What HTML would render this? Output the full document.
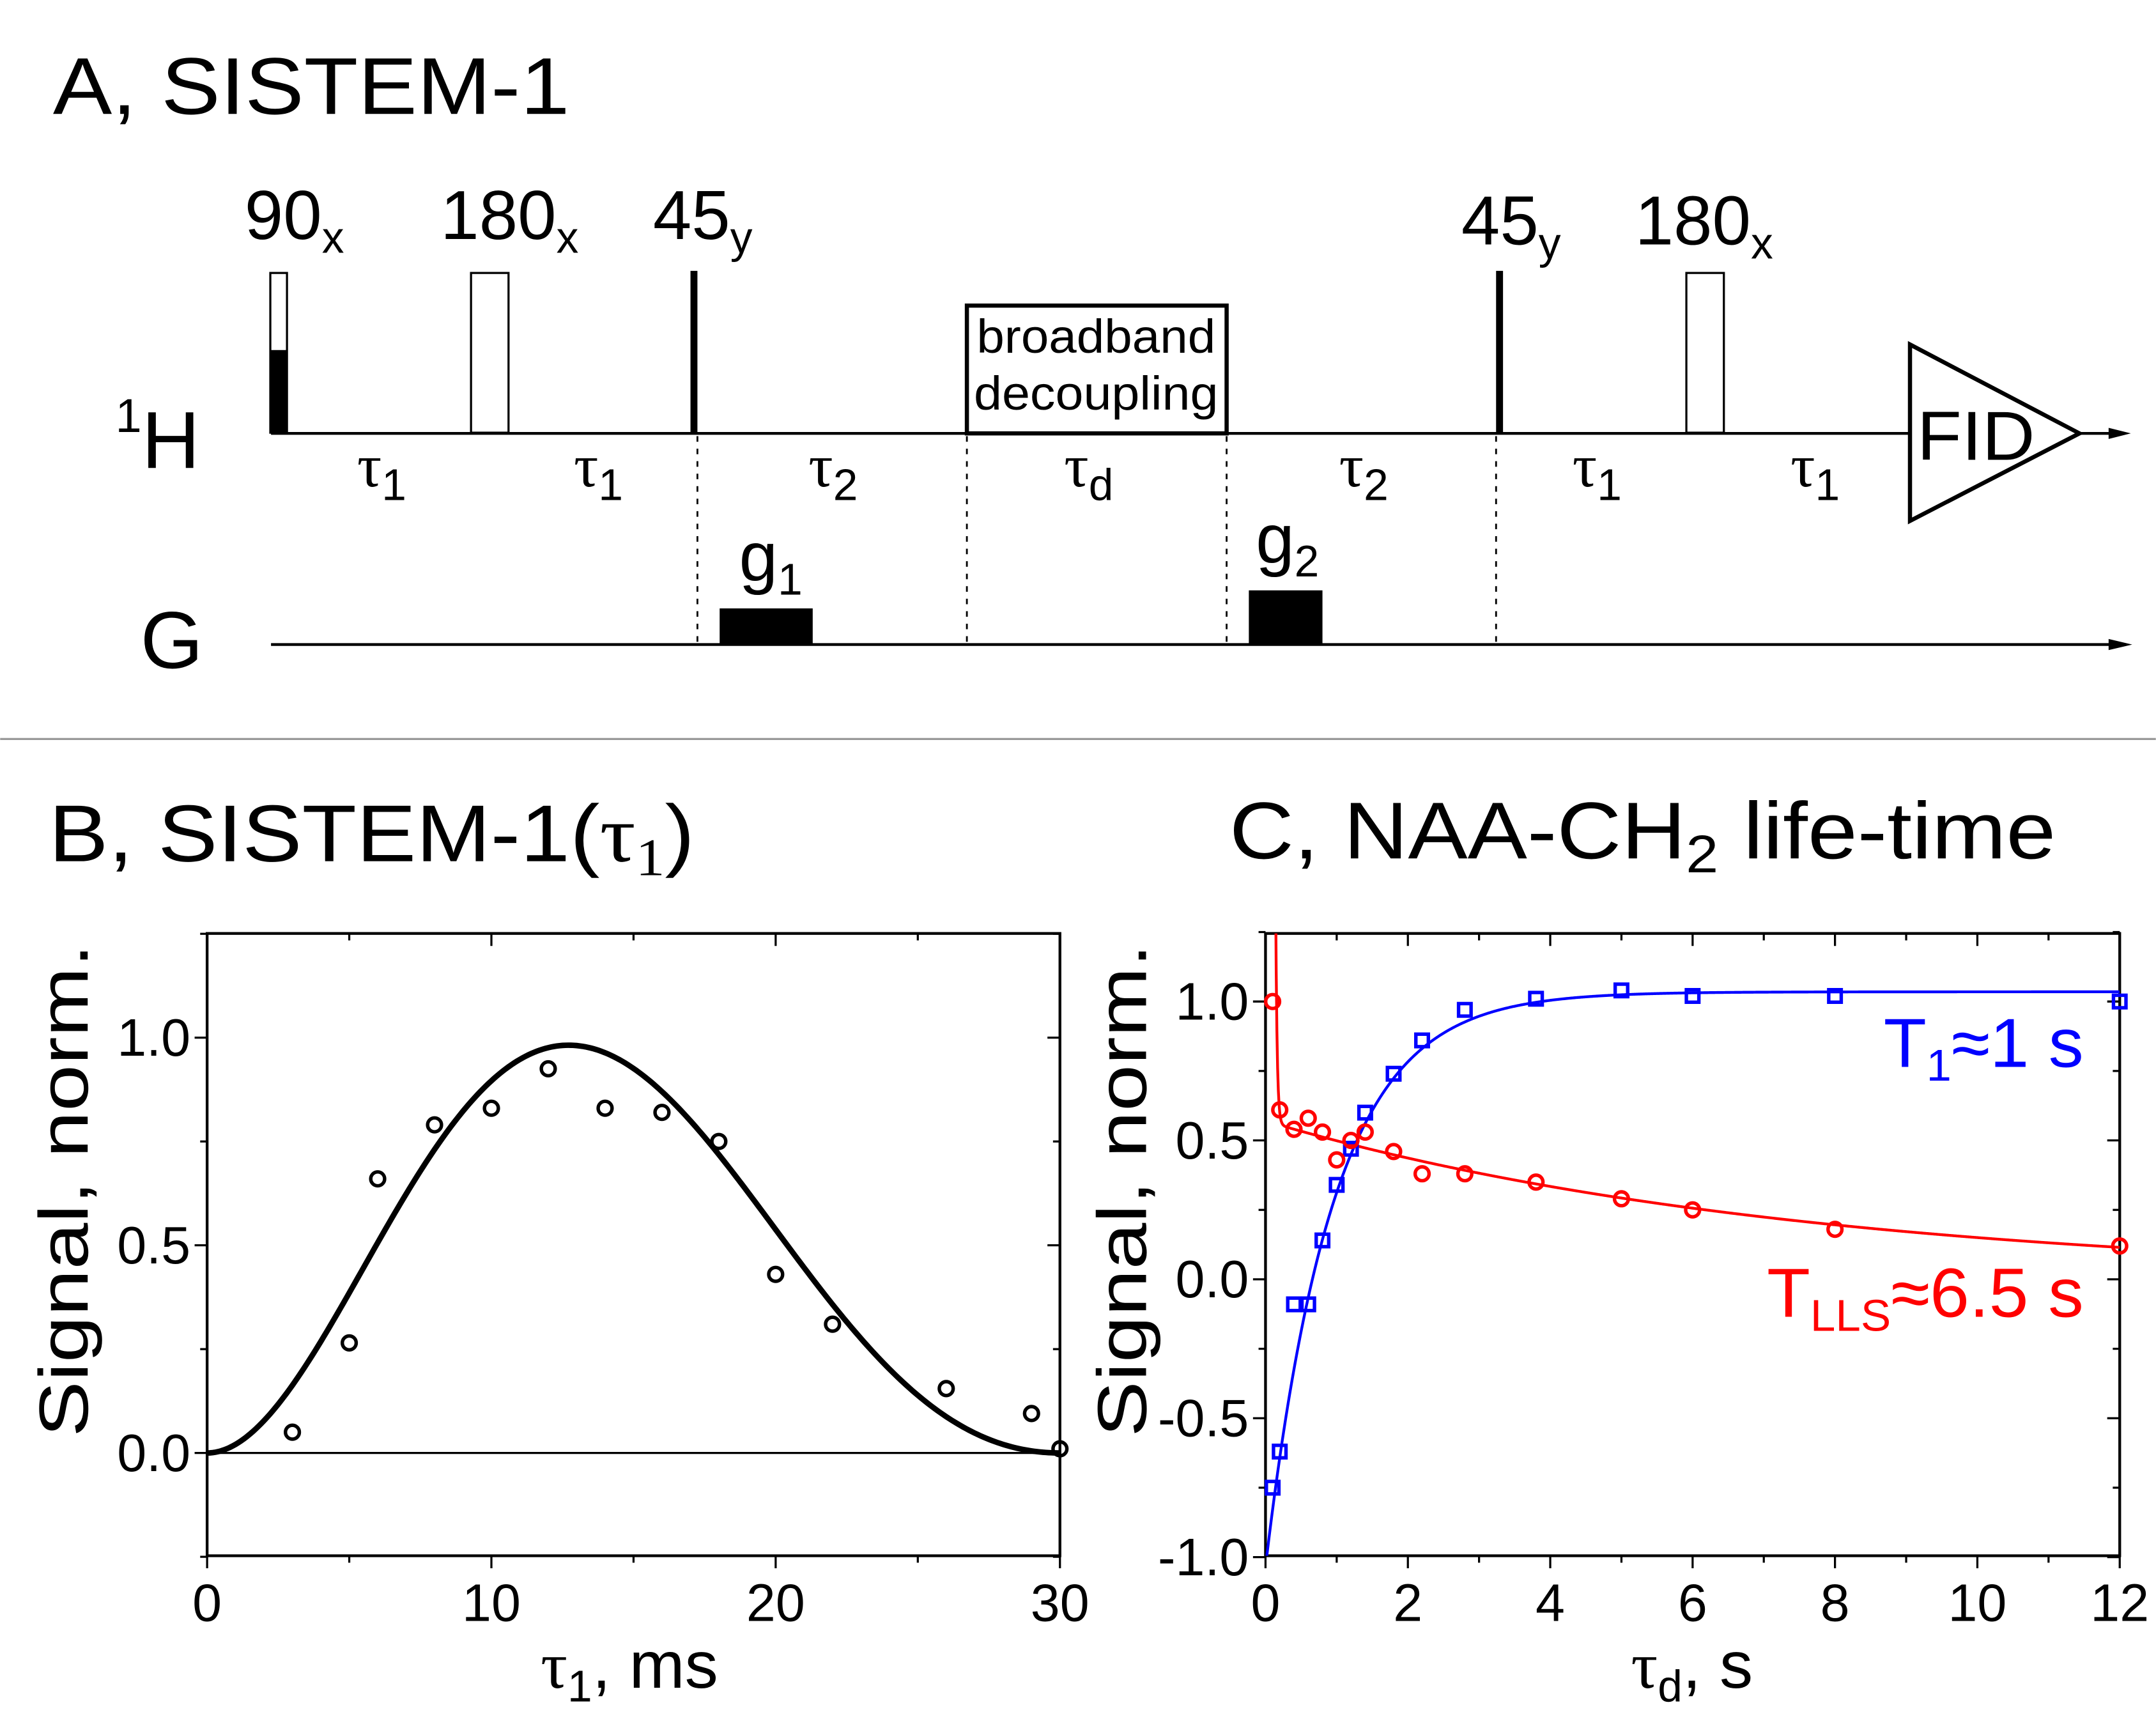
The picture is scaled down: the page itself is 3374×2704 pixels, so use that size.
<!DOCTYPE html>
<html><head><meta charset="utf-8"><style>
html,body{margin:0;padding:0;background:#fff}
svg{display:block}
text{font-family:"Liberation Sans",sans-serif}
.serif{font-family:"Liberation Serif",serif}
</style></head><body>
<svg id="fig" width="3374" height="2704" viewBox="0 0 1552 1244" xmlns="http://www.w3.org/2000/svg">
<rect width="1552" height="1244" fill="#fff"/>
<g>
<text x="38" y="82" font-size="58" textLength="372" lengthAdjust="spacingAndGlyphs">A, SISTEM-1</text>
<text x="83" y="337" font-size="58"><tspan font-size="34" dy="-26">1</tspan><tspan dy="26">H</tspan></text>
<text x="101" y="481" font-size="58">G</text>
<line x1="195" y1="312" x2="1528" y2="312" stroke="#000" stroke-width="2"/>
<path d="M1518 308 L1534 312 L1518 316" fill="#000"/>
<line x1="195" y1="464" x2="1528" y2="464" stroke="#000" stroke-width="2"/>
<path d="M1518 460 L1535 464 L1518 468" fill="#000"/>
<rect x="194.5" y="196.5" width="12" height="115" fill="#fff" stroke="#000" stroke-width="1.5"/>
<rect x="194" y="252" width="13" height="60" fill="#000"/>
<rect x="339" y="196.5" width="27" height="115" fill="#fff" stroke="#000" stroke-width="1.5"/>
<rect x="497" y="195" width="5" height="117" fill="#000"/>
<rect x="696" y="220" width="187" height="92" fill="#fff" stroke="#000" stroke-width="3"/>
<text x="789" y="254" font-size="34" text-anchor="middle" textLength="172" lengthAdjust="spacingAndGlyphs">broadband</text>
<text x="789" y="295" font-size="34" text-anchor="middle" textLength="176" lengthAdjust="spacingAndGlyphs">decoupling</text>
<rect x="1077" y="195" width="5" height="117" fill="#000"/>
<rect x="1214" y="196.5" width="27" height="115" fill="#fff" stroke="#000" stroke-width="1.5"/>
<path d="M1375 248 L1497 312 L1375 375 Z" fill="#fff" stroke="#000" stroke-width="3"/>
<text x="1380" y="331" font-size="50" textLength="85" lengthAdjust="spacingAndGlyphs">FID</text>
<g font-size="50">
<text x="176" y="172">90<tspan font-size="32" dy="10">x</tspan></text>
<text x="317" y="172">180<tspan font-size="32" dy="10">x</tspan></text>
<text x="470" y="172">45<tspan font-size="32" dy="10">y</tspan></text>
<text x="1052" y="176">45<tspan font-size="32" dy="10">y</tspan></text>
<text x="1177" y="176">180<tspan font-size="32" dy="10">x</tspan></text>
</g>
<g font-size="44">
<text x="257" y="350" class="serif">τ<tspan font-family="Liberation Sans" font-size="32" dy="10">1</tspan></text>
<text x="413" y="350" class="serif">τ<tspan font-family="Liberation Sans" font-size="32" dy="10">1</tspan></text>
<text x="582" y="350" class="serif">τ<tspan font-family="Liberation Sans" font-size="32" dy="10">2</tspan></text>
<text x="766" y="350" class="serif">τ<tspan font-family="Liberation Sans" font-size="32" dy="10">d</tspan></text>
<text x="964" y="350" class="serif">τ<tspan font-family="Liberation Sans" font-size="32" dy="10">2</tspan></text>
<text x="1132" y="350" class="serif">τ<tspan font-family="Liberation Sans" font-size="32" dy="10">1</tspan></text>
<text x="1289" y="350" class="serif">τ<tspan font-family="Liberation Sans" font-size="32" dy="10">1</tspan></text>
</g>
<g stroke="#000" stroke-width="1.3" stroke-dasharray="4,5">
<line x1="502" y1="314" x2="502" y2="464"/><line x1="696" y1="314" x2="696" y2="464"/>
<line x1="883" y1="314" x2="883" y2="464"/><line x1="1077" y1="314" x2="1077" y2="464"/>
</g>
<rect x="518" y="438" width="67" height="26" fill="#000"/>
<rect x="899" y="425" width="53" height="39" fill="#000"/>
<text x="532" y="418" font-size="50">g<tspan font-size="32" dy="10">1</tspan></text>
<text x="904" y="405" font-size="50">g<tspan font-size="32" dy="10">2</tspan></text>
</g>
<line x1="0" y1="532" x2="1552" y2="532" stroke="#999" stroke-width="1.5"/>
<text x="35" y="620" font-size="58" textLength="465" lengthAdjust="spacingAndGlyphs">B, SISTEM-1(<tspan class="serif">τ</tspan><tspan class="serif" font-size="38" dy="10">1</tspan><tspan dy="-10">)</tspan></text>
<text x="885" y="618" font-size="58" textLength="595" lengthAdjust="spacingAndGlyphs">C, NAA-CH<tspan font-size="38" dy="10">2</tspan><tspan dy="-10"> life-time</tspan></text>
<g id="plotB"></g>
<g id="plotC"></g>
</svg>
<script>
const NS='http://www.w3.org/2000/svg';
// Panel B data
const bX=[3,5,6,8,10,12,14,16,18,20,22,26,29,30];
const bY=[0.05,0.265,0.66,0.79,0.83,0.925,0.83,0.82,0.75,0.43,0.31,0.155,0.095,0.01];
const bXTicks=[0,10,20,30];
const bYTicks=[0.0,0.5,1.0];
const bYTickLabels=['0.0','0.5','1.0'];
// Panel C data
const cX=[0.1,0.2,0.4,0.6,0.8,1.0,1.2,1.4,1.8,2.2,2.8,3.8,5,6,8,12];
const cBlue=[-0.75,-0.62,-0.09,-0.09,0.14,0.34,0.47,0.60,0.74,0.86,0.97,1.01,1.04,1.02,1.02,1.00];
const cRed=[1.0,0.61,0.54,0.58,0.53,0.43,0.50,0.53,0.46,0.38,0.38,0.35,0.29,0.25,0.18,0.12];
const cXTicks=[0,2,4,6,8,10,12];
const cYTicks=[-1.0,-0.5,0.0,0.5,1.0];
const cYTickLabels=['-1.0','-0.5','0.0','0.5','1.0'];

function el(tag,attrs,parent){const e=document.createElementNS(NS,tag);for(const k in attrs)e.setAttribute(k,attrs[k]);parent.appendChild(e);return e;}

function axesFrame(g,L,R,T,B,xs,ys,xMaj,xMin,yMaj,yMin,xr,yr){
  el('rect',{x:L,y:T,width:R-L,height:B-T,fill:'none',stroke:'#000','stroke-width':2},g);
  for(let v=xr[0];v<=xr[1]+1e-9;v+=xMin){const X=xs(v);const maj=Math.abs(v/xMaj-Math.round(v/xMaj))<1e-6;const len=maj?9:5;
    el('line',{x1:X,y1:B,x2:X,y2:B+len,stroke:'#000','stroke-width':1.5},g);
    el('line',{x1:X,y1:T,x2:X,y2:T+len,stroke:'#000','stroke-width':1.5},g);}
  for(let v=yr[0];v<=yr[1]+1e-9;v+=yMin){const Y=ys(v);const maj=Math.abs(v/yMaj-Math.round(v/yMaj))<1e-6;const len=maj?9:5;
    el('line',{x1:L-len,y1:Y,x2:L,y2:Y,stroke:'#000','stroke-width':1.5},g);
    el('line',{x1:R-len,y1:Y,x2:R,y2:Y,stroke:'#000','stroke-width':1.5},g);}
}

// ---- Panel B
(function(){
  const g=document.getElementById('plotB');
  const L=149,R=763,T=672,B=1120;
  const xs=v=>L+(v-0)/(30-0)*(R-L);
  const ys=v=>1046-v*299;
  axesFrame(g,L,R,T,B,xs,ys,10,5,0.5,0.25,[0,30],[-0.25,1.25]);
  const z=el('line',{x1:L,y1:ys(0),x2:R,y2:ys(0),stroke:'#000','stroke-width':1.5},g);
  
  
  bXTicks.forEach(v=>{const t=el('text',{x:xs(v),y:1167,'font-size':38,'text-anchor':'middle'},g);t.textContent=v;
    
    });
  bYTicks.forEach((v,i)=>{const t=el('text',{x:L-12,y:ys(v)+13,'font-size':38,'text-anchor':'end'},g);t.textContent=bYTickLabels[i];
    
    });
  let d='';for(let i=0;i<=300;i++){const x=30*i/300;const y=1.99*Math.pow(Math.sin(Math.PI*x/30),2)*Math.exp(-x/19.6);d+=(i?'L':'M')+xs(x).toFixed(2)+' '+ys(y).toFixed(2);}
  const p=el('path',{d:d,fill:'none',stroke:'#000','stroke-width':4},g);
  
  
  bX.forEach((x,i)=>{const c=el('circle',{cx:xs(x),cy:ys(bY[i]),r:5,fill:'none',stroke:'#000','stroke-width':2.5},g);
    
    });
  const yl=el('text',{x:0,y:0,'font-size':50,'text-anchor':'middle',textLength:355,lengthAdjust:'spacingAndGlyphs',transform:'translate(63,857) rotate(-90)'},g);yl.textContent='Signal, norm.';
  
  
  const xl=el('text',{x:453,y:1215,'font-size':48,'text-anchor':'middle'},g);
  xl.innerHTML='<tspan font-family="Liberation Serif">τ</tspan><tspan font-size="32" dy="10">1</tspan><tspan dy="-10">, ms</tspan>';
  
  
})();

// ---- Panel C
(function(){
  const g=document.getElementById('plotC');
  const L=911,R=1526,T=672,B=1120;
  const xs=v=>L+v/12*(R-L);
  const ys=v=>921-v*200;
  const defs=el('defs',{},g);const cp=el('clipPath',{id:'cclip'},defs);el('rect',{x:L,y:T,width:R-L,height:B-T},cp);
  axesFrame(g,L,R,T,B,xs,ys,2,1,0.5,0.25,[0,12],[-1,1.25]);
  cXTicks.forEach(v=>{const t=el('text',{x:xs(v),y:1167,'font-size':38,'text-anchor':'middle'},g);t.textContent=v;
    
    });
  cYTicks.forEach((v,i)=>{const t=el('text',{x:L-12,y:ys(v)+13,'font-size':38,'text-anchor':'end'},g);t.textContent=cYTickLabels[i];
    
    });
  let db='',dr='';
  for(let i=0;i<=1200;i++){const x=12*i/1200;
    const yb=1.035*(1-2*Math.exp(-x/0.95));
    let yr=0.57*Math.exp(-x/7.5)+1000*Math.exp(-x/0.02);if(yr>2)yr=2;
    db+=(i?'L':'M')+xs(x).toFixed(2)+' '+ys(yb).toFixed(2);
    dr+=(i?'L':'M')+xs(x).toFixed(2)+' '+ys(yr).toFixed(2);}
  const pb=el('path',{d:db,fill:'none',stroke:'#0000ff','stroke-width':2,'clip-path':'url(#cclip)'},g);
  
  
  const pr=el('path',{d:dr,fill:'none',stroke:'#ff0000','stroke-width':2,'clip-path':'url(#cclip)'},g);
  
  
  cX.forEach((x,i)=>{const s=el('rect',{x:xs(x)-4.5,y:ys(cBlue[i])-4.5,width:9,height:9,fill:'none',stroke:'#0000ff','stroke-width':2.5},g);
    
    });
  cX.forEach((x,i)=>{const c=el('circle',{cx:xs(x),cy:ys(cRed[i]),r:5,fill:'none',stroke:'#ff0000','stroke-width':2.5},g);
    
    });
  const t1=el('text',{x:1356,y:768,'font-size':50,fill:'#0000ff',textLength:144,lengthAdjust:'spacingAndGlyphs'},g);
  t1.innerHTML='T<tspan font-size="32" dy="10">1</tspan><tspan dy="-10">≈1 s</tspan>';
  
  
  const t2=el('text',{x:1272,y:948,'font-size':50,fill:'#ff0000',textLength:228,lengthAdjust:'spacingAndGlyphs'},g);
  t2.innerHTML='T<tspan font-size="32" dy="10">LLS</tspan><tspan dy="-10">≈6.5 s</tspan>';
  
  
  const yl=el('text',{x:0,y:0,'font-size':50,'text-anchor':'middle',textLength:355,lengthAdjust:'spacingAndGlyphs',transform:'translate(825,857) rotate(-90)'},g);yl.textContent='Signal, norm.';
  
  
  const xl=el('text',{x:1218,y:1215,'font-size':48,'text-anchor':'middle'},g);
  xl.innerHTML='<tspan font-family="Liberation Serif">τ</tspan><tspan font-size="32" dy="10">d</tspan><tspan dy="-10">, s</tspan>';
  
  
})();
</script>
</body></html>
